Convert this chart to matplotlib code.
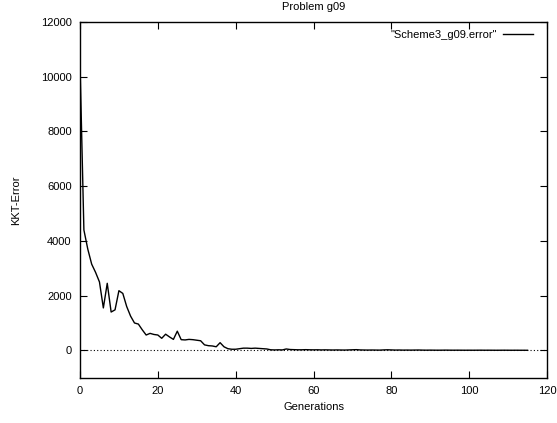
import matplotlib
matplotlib.use("Agg")
import matplotlib.pyplot as plt

plt.rcParams['font.family'] = ['Liberation Sans', 'DejaVu Sans']

generations = list(range(0, 116))
kkt_error = [10500, 4400, 3700, 3150, 2850, 2500, 1550, 2450, 1400, 1480,
             2180, 2080, 1600, 1250, 1000, 960, 750, 560, 620, 580,
             560, 440, 590, 490, 400, 700, 390, 380, 400, 390,
             370, 350, 200, 170, 160, 130, 280, 130, 60, 40,
             40, 60, 80, 80, 70, 80, 70, 60, 50, 20,
             15, 20, 15, 50, 30, 25, 20, 20, 25, 20,
             18, 20, 15, 18, 15, 12, 15, 12, 10, 15,
             20, 25, 15, 12, 10, 12, 10, 8, 15, 20,
             15, 10, 12, 8, 10, 8, 10, 12, 8, 6,
             8, 6, 5, 6, 8, 6, 5, 6, 5, 4,
             5, 4, 5, 6, 4, 5, 4, 3, 4, 5,
             4, 3, 4, 3, 3, 2]

fig = plt.figure(figsize=(5.57, 4.23), dpi=100)
ax = fig.add_axes([80 / 557, 1 - 377.7 / 423, 467 / 557, 355.7 / 423])

ax.plot(generations, kkt_error, color='black', linewidth=1.0,
        label='"Scheme3_g09.error"')
ax.axhline(0, color='black', linewidth=0.8, linestyle=(0, (1, 2)))

ax.set_xlim(0, 120)
ax.set_ylim(-1000, 12000)
ax.set_xticks(range(0, 121, 20))
ax.set_yticks(range(0, 12001, 2000))
ax.tick_params(direction='in', top=True, right=True, length=5, width=0.8,
               labelsize=8, pad=6)
for s in ax.spines.values():
    s.set_linewidth(1.0)

ax.set_title('Problem g09', fontsize=8, pad=9)
ax.set_xlabel('Generations', fontsize=8, labelpad=4)
ax.set_ylabel('KKT-Error', fontsize=8, labelpad=14)

leg = ax.legend(loc='upper right', bbox_to_anchor=(0.98, 0.991),
                frameon=False, fontsize=8, markerfirst=False,
                handlelength=2.7, handletextpad=0.6, borderaxespad=0)

fig.savefig('out.png', dpi=100)
